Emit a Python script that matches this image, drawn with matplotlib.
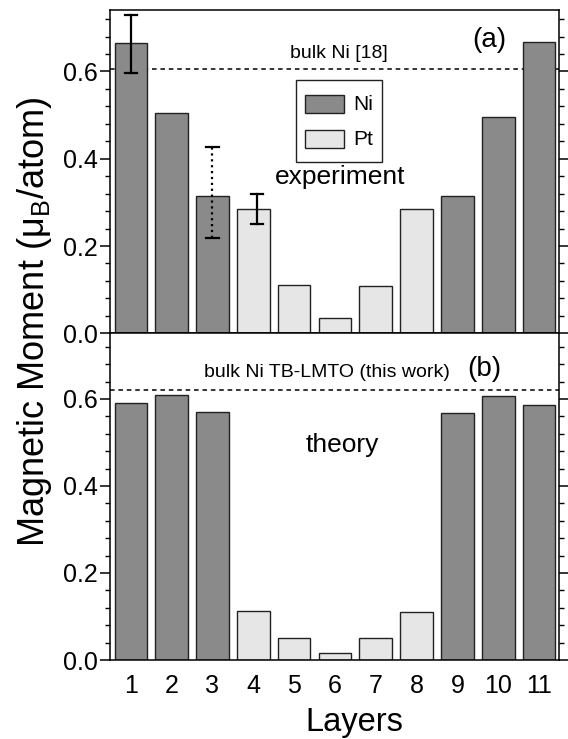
import matplotlib
matplotlib.use("Agg")
import matplotlib.pyplot as plt
from matplotlib.patches import Patch, Rectangle
from matplotlib.legend_handler import HandlerPatch
from matplotlib.ticker import MultipleLocator

plt.rcParams['font.family'] = ['Liberation Sans', 'DejaVu Sans']

layers = [1, 2, 3, 4, 5, 6, 7, 8, 9, 10, 11]
tick_labels = ['1', '2', '3', '4', '5', '6', '7', '8', '9', '10', '11']
element = ['Ni', 'Ni', 'Ni', 'Pt', 'Pt', 'Pt', 'Pt', 'Pt', 'Ni', 'Ni', 'Ni']

# experiment (a)
exp_moment = [0.665, 0.505, 0.315, 0.285, 0.111, 0.036, 0.109, 0.285, 0.315, 0.495, 0.667]
# error bars: x position, low, high
err_x = [1, 3, 4.1]
err_low = [0.596, 0.218, 0.251]
err_high = [0.730, 0.428, 0.319]
err_style = ['-', ':', '-']
bulk_exp = 0.606

# theory (b)
th_moment = [0.590, 0.608, 0.569, 0.113, 0.051, 0.015, 0.050, 0.111, 0.567, 0.607, 0.587]
bulk_th = 0.621

colors = {'Ni': '#8a8a8a', 'Pt': '#e6e6e6'}
bar_colors = [colors[e] for e in element]


def short_box(legend, orig_handle, xdescent, ydescent, width, height, fontsize):
    # legend patch a bit shorter than the row, centred in it
    h = 0.87 * fontsize
    return Rectangle((-xdescent, -ydescent + (height - h) / 2), width, h)


fig = plt.figure(figsize=(5.68, 7.39), dpi=100)
ax1 = fig.add_axes([0.1937, 0.549, 0.7905, 0.4375])
ax2 = fig.add_axes([0.1937, 0.1069, 0.7905, 0.4421])

for ax, vals, top in [(ax1, exp_moment, 0.741), (ax2, th_moment, 0.751)]:
    ax.bar(layers, vals, width=0.8, color=bar_colors, edgecolor='#222222', linewidth=1.0, zorder=2)
    ax.set_xlim(0.49, 11.49)
    ax.set_ylim(0, top)
    ax.yaxis.set_major_locator(MultipleLocator(0.2))
    ax.yaxis.set_minor_locator(MultipleLocator(0.04))
    ax.tick_params(axis='y', which='major', direction='out', length=7, width=1.1,
                   labelsize=18, right=True, pad=2)
    ax.tick_params(axis='y', which='minor', direction='out', length=3.5, width=1.0, right=True)
    ax.tick_params(axis='x', length=0)
    for s in ax.spines.values():
        s.set_linewidth(1.1)
    ax.set_yticks([0.0, 0.2, 0.4, 0.6])
    ax.set_yticklabels(['0.0', '0.2', '0.4', '0.6'])

ax1.set_xticks(layers)
ax1.set_xticklabels([])
ax2.set_xticks(layers)
ax2.set_xticklabels(tick_labels, fontsize=18)
ax2.tick_params(axis='x', pad=10)

# error bars
for x, lo, hi, ls in zip(err_x, err_low, err_high, err_style):
    ax1.plot([x, x], [lo, hi], color='black', linestyle=ls, linewidth=1.6, zorder=3)
    for y in (lo, hi):
        ax1.plot([x - 0.15, x + 0.15], [y, y], color='black', linewidth=1.6, zorder=3)

ax1.axhline(bulk_exp, color='black', linestyle=(0, (3, 2.5)), linewidth=1.1, zorder=1)
ax2.axhline(bulk_th, color='black', linestyle=(0, (3, 2.5)), linewidth=1.1, zorder=1)

ax1.text(6.10, 0.642, 'bulk Ni [18]', fontsize=14, ha='center', va='center')
ax1.text(9.77, 0.672, '(a)', fontsize=20, ha='center', va='center')
ax1.text(6.12, 0.359, 'experiment', fontsize=19, ha='center', va='center')

ax2.text(5.81, 0.660, 'bulk Ni TB-LMTO (this work)', fontsize=14, ha='center', va='center')
ax2.text(9.66, 0.668, '(b)', fontsize=20, ha='center', va='center')
ax2.text(6.17, 0.494, 'theory', fontsize=19, ha='center', va='center')

handles = [Patch(facecolor=colors['Ni'], edgecolor='#222222', linewidth=1.0, label='Ni'),
           Patch(facecolor=colors['Pt'], edgecolor='#222222', linewidth=1.0, label='Pt')]
leg = ax1.legend(handles=handles, loc='upper left', bbox_to_anchor=(0.4136, 0.7835),
                 fontsize=15, handlelength=1.9, handleheight=1.8, labelspacing=0.26,
                 borderpad=0.43, handletextpad=0.45, borderaxespad=0, fancybox=False,
                 framealpha=1, edgecolor='#222222',
                 handler_map={Patch: HandlerPatch(patch_func=short_box)})
leg.get_frame().set_linewidth(1.0)

fig.text(354 / 568, 1 - 722 / 739, 'Layers', fontsize=23.5, ha='center', va='center')
fig.text(0.061, 1 - 322 / 739, 'Magnetic Moment ($\\mathregular{\\mu_B}$/atom)', rotation=90,
         fontsize=26, ha='center', va='center')

fig.savefig('out.png', dpi=100)
